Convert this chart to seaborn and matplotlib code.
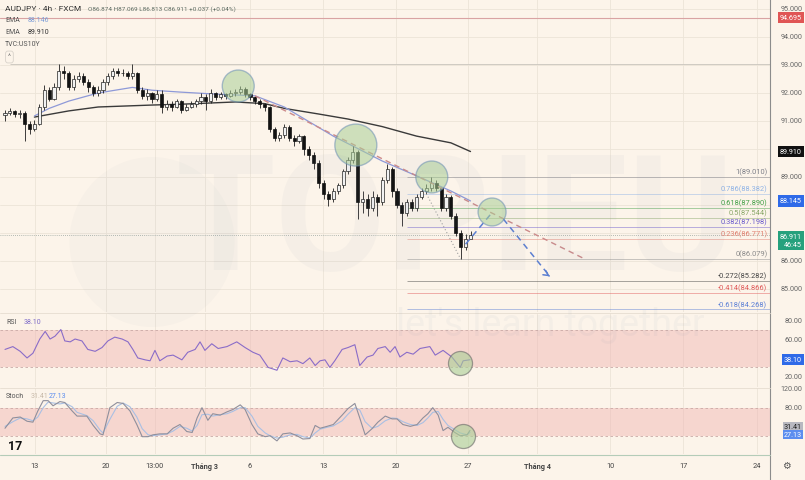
import matplotlib
matplotlib.use("Agg")
import matplotlib.pyplot as plt
from matplotlib.lines import Line2D
from matplotlib.patches import Ellipse
import seaborn as sns
import numpy as np
import pandas as pd

# ---------------- data ----------------
open0 = 91.2
close = [91.3, 91.35, 91.25, 91.3, 90.9, 90.7, 90.9, 91.5, 92.1, 91.8,
         92.2, 92.8, 92.7, 92.2, 92.5, 92.6, 92.4, 92.2, 92.0, 92.1,
         92.4, 92.6, 92.8, 92.7, 92.7, 92.6, 92.7, 92.1, 91.9, 92.0,
         91.8, 91.95, 91.5, 91.6, 91.5, 91.7, 91.4, 91.5, 91.6, 91.7,
         91.85, 91.7, 92.0, 91.85, 91.95, 91.9, 92.0, 92.05, 92.15, 91.95,
         91.85, 91.7, 91.6, 91.5, 90.7, 90.4, 90.5, 90.8, 90.4, 90.3,
         90.45, 90.0, 89.8, 89.5, 88.8, 88.4, 88.2, 88.5, 88.7, 89.2,
         89.6, 89.9, 88.1, 88.2, 87.9, 88.3, 88.1, 88.9, 89.3, 88.5,
         88.0, 87.7, 88.1, 87.9, 88.3, 88.5, 88.6, 88.8, 88.6, 87.9,
         88.3, 87.6, 87.0, 86.5, 86.8, 86.911]
high = [91.4, 91.45, 91.4, 91.4, 91.35, 91.0, 91.05, 91.6, 92.3, 92.2,
        92.35, 93.05, 92.95, 92.8, 92.65, 92.75, 92.7, 92.5, 92.3, 92.25,
        92.5, 92.7, 92.9, 92.9, 92.85, 92.8, 93.05, 92.75, 92.2, 92.15,
        92.05, 92.1, 92.1, 91.75, 91.7, 91.8, 91.75, 91.6, 91.7, 91.8,
        92.0, 91.95, 92.15, 92.05, 92.05, 92.0, 92.1, 92.15, 92.25, 92.2,
        92.0, 91.9, 91.8, 91.65, 91.55, 90.8, 90.6, 90.9, 90.85, 90.5,
        90.55, 90.5, 90.1, 89.9, 89.6, 88.9, 88.5, 88.6, 88.8, 89.3,
        89.7, 90.1, 89.95, 88.5, 88.4, 88.5, 88.4, 89.0, 89.45, 89.35,
        88.6, 88.1, 88.2, 88.2, 88.4, 88.6, 88.75, 89.0, 88.9, 88.65,
        88.4, 88.35, 87.7, 87.1, 86.95, 87.069]
low = [91.0, 91.2, 91.15, 91.1, 90.3, 90.55, 90.65, 90.85, 91.4, 91.7,
       91.75, 92.1, 92.5, 92.1, 92.1, 92.4, 92.3, 92.05, 91.9, 91.9,
       92.0, 92.3, 92.5, 92.6, 92.6, 92.5, 92.5, 92.0, 91.8, 91.75,
       91.65, 91.7, 91.3, 91.4, 91.35, 91.45, 91.3, 91.35, 91.45, 91.5,
       91.6, 91.4, 91.65, 91.75, 91.8, 91.8, 91.85, 91.9, 91.95, 91.85,
       91.75, 91.6, 91.45, 91.35, 90.6, 90.3, 90.3, 90.4, 90.3, 90.1,
       90.2, 89.8, 89.6, 89.3, 88.6, 88.2, 87.96, 88.1, 88.4, 88.6,
       89.1, 89.5, 87.5, 87.7, 87.6, 87.8, 87.6, 88.0, 88.8, 88.3,
       87.9, 87.25, 87.6, 87.8, 87.8, 88.2, 88.4, 88.5, 88.5, 87.8,
       87.8, 87.5, 86.9, 86.07, 86.4, 86.813]

ema_fast_bar = [6, 9, 13, 19, 26, 30, 36, 43, 51, 57, 67, 77, 84, 91, 95]
ema_fast = [91.18, 91.45, 91.71, 92.0, 92.2, 92.1, 92.03, 91.96, 91.9, 91.5,
            90.46, 89.57, 89.04, 88.5, 88.146]
ema_slow_bar = [6, 13, 19, 30, 36, 47, 53, 57, 64, 70, 77, 84, 91, 95]
ema_slow = [91.14, 91.36, 91.5, 91.57, 91.6, 91.68, 91.62, 91.45, 91.25,
            91.07, 90.8, 90.46, 90.22, 89.91]

trend_bar = [51, 118]
trend_price = [91.9, 86.1]
proj_bar = [94, 99.5, 111.2]
proj_price = [86.6, 87.75, 85.45]
dotted_bar = [86, 93]
dotted_price = [88.4, 86.07]

fib_ratio = [1, 0.786, 0.618, 0.5, 0.382, 0.236, 0, -0.272, -0.414, -0.618]
fib_price = [89.010, 88.382, 87.890, 87.544, 87.198, 86.771, 86.079, 85.282, 84.866, 84.268]
fib_colors = ['#7d7f88', '#8fb3e6', '#43a047', '#8aa86a', '#6a5acd', '#e08070',
              '#8a8a8a', '#444444', '#e05a5a', '#5b7fd6']

circle_bar = [47.6, 71.6, 87.1, 99.4]
circle_price = [92.25, 90.14, 89.0, 87.75]

rsi_bar = [0, 1.6, 3.1, 4.5, 5.7, 7.1, 8.2, 9.2, 10.2, 11.4, 12.2, 13.3, 14.3, 15.7,
           16.9, 18.4, 19.8, 21, 22.4, 23.9, 25.1, 26.1, 27.1, 28.6, 29.6, 30.6, 31.6,
           33.1, 34.3, 36.1, 37.3, 38.8, 39.8, 40.8, 42.2, 43.5, 45.3, 47.3, 49, 50.6,
           52, 53.7, 55.5, 56.7, 58.2, 59.6, 60.8, 62.2, 63.3, 64.3, 65.3, 66.3, 67.3,
           68.8, 70, 71.4, 72.4, 73.9, 75.1, 76.1, 77.6, 78.6, 79.6, 80.6, 82, 83.3,
           84.7, 86.7, 87.8, 89.4, 91.2, 92.9, 93.5, 94.9]
rsi_val = [49, 52, 47, 40, 45, 60, 68, 60, 63, 70, 58, 57, 60, 58, 49, 47, 51, 58,
           62, 60, 57, 49, 40, 38, 37, 48, 37, 42, 43, 38, 46, 49, 57, 48, 55, 50,
           52, 57, 51, 46, 43, 30, 27, 40, 36, 37, 34, 40, 32, 37, 38, 30, 37, 49,
           51, 54, 32, 41, 43, 50, 52, 46, 52, 41, 46, 44, 50, 52, 43, 48, 41, 30,
           37, 38.1]

stoch_bar = [0, 1.6, 3.1, 4.5, 5.7, 6.7, 7.8, 8.8, 9.8, 11.2, 12.2, 13.7, 14.7, 16.7,
             18, 19.4, 20, 21.4, 22.9, 24.1, 25.5, 26.9, 28, 29.2, 30.2, 31.6, 33.1,
             34.3, 35.7, 37.1, 38.2, 39.2, 40.2, 41.4, 42.4, 43.9, 45.3, 46.5, 48, 49,
             50.4, 51.6, 53.1, 54.1, 55.5, 56.7, 58.2, 59.6, 60.8, 62.2, 63.3, 64.3,
             65.7, 67, 68.8, 70, 71.4, 72.4, 73.5, 74.9, 76.1, 77.6, 79, 80, 81.2,
             82.7, 84.1, 85.3, 86.3, 87.3, 88.4, 89.4, 90.4, 91.8, 92.9, 94.3, 94.9]
stoch_k = [36, 58, 60, 51, 49, 73, 95, 95, 84, 93, 91, 73, 62, 62, 42, 24, 22, 80,
           91, 89, 73, 44, 18, 18, 22, 24, 24, 36, 44, 29, 27, 58, 80, 53, 67, 64,
           71, 76, 86, 76, 44, 24, 18, 20, 9, 24, 26, 20, 13, 14, 42, 36, 40, 44,
           64, 78, 89, 58, 22, 35, 49, 62, 56, 56, 44, 40, 44, 58, 67, 80, 64, 31,
           38, 27, 20, 22, 31.41]
stoch_d = [40, 50, 58, 56, 52, 60, 80, 92, 90, 88, 90, 82, 70, 63, 52, 32, 26, 55,
           83, 90, 82, 60, 35, 22, 20, 22, 24, 30, 40, 36, 30, 42, 65, 66, 62, 65,
           67, 72, 80, 80, 62, 40, 26, 20, 15, 17, 22, 23, 18, 15, 26, 34, 38, 41,
           52, 66, 80, 75, 50, 36, 40, 52, 58, 57, 50, 44, 42, 48, 58, 70, 72, 55,
           42, 33, 26, 22, 27.13]

tick_bar = [6.1, 20.6, 30.6, 40.8, 50, 64.9, 79.8, 94.5, 108.6, 123.5, 138.4, 153.5]
tick_label = ["13", "20", "13:00", "Tháng 3", "6", "13", "20", "27", "Tháng 4", "10", "17", "24"]

price_ticks = [95, 94, 93, 92, 91, 89, 86, 85]
rsi_ticks = [80, 60, 20]
stoch_ticks = [120, 80]

# ---------------- style ----------------
sns.set_theme(style="white")
plt.rcParams['font.family'] = ['Roboto', 'DejaVu Sans']
BG = '#fcf4ea'
GRID = '#ece4d8'
W, H = 805, 481

fig = plt.figure(figsize=(8.05, 4.81), dpi=100, facecolor=BG)

def frame(x0, y0, x1, y1):
    return [x0 / W, 1 - y1 / H, (x1 - x0) / W, (y1 - y0) / H]

ax = fig.add_axes(frame(0, 0, 770, 313))
ax_r = fig.add_axes(frame(0, 314, 770, 388), sharex=ax)
ax_s = fig.add_axes(frame(0, 389, 770, 455), sharex=ax)

XMIN, XMAX = -5 / 4.9, 765 / 4.9
for a in (ax, ax_r, ax_s):
    a.set_facecolor('none')
    for sp in a.spines.values():
        sp.set_visible(False)
    a.set_yticks([])
    a.tick_params(axis='x', length=0)
    for tb in tick_bar:
        a.axvline(tb, color=GRID, lw=0.6, zorder=0)
ax.set_xlim(XMIN, XMAX)
ax.set_ylim(94 - 275 / 28, 94 + 38 / 28)
ax_r.set_ylim(9.3, 87.5)
ax_s.set_ylim(-19, 122)
plt.setp(ax.get_xticklabels(), visible=False)
plt.setp(ax_r.get_xticklabels(), visible=False)

# ---------------- main pane ----------------
for p in range(85, 96):
    ax.axhline(p, color=GRID, lw=0.6, zorder=0)
ax.axhline(94.695, color='#d9a3a3', lw=0.8, zorder=1)
ax.hlines(93.04, 1, XMAX, color='#cfcac2', lw=0.7, zorder=1)
ax.axhline(86.911, color='#9aa6a0', lw=0.6, ls=(0, (1, 1.5)), zorder=1)

n = len(close)
opens = [open0] + close[:-1]
df = pd.DataFrame({'bar': np.arange(n), 'open': opens, 'close': close,
                   'high': high, 'low': low})
df['body'] = (df['close'] - df['open']).abs().clip(lower=0.025)
df['bottom'] = df[['open', 'close']].min(axis=1)
up = df['close'] >= df['open']
ax.vlines(df['bar'], df['low'], df['high'], color='#1e1e1e', lw=0.6, zorder=3)
ax.bar(df['bar'][up], df['body'][up], bottom=df['bottom'][up], width=0.62,
       color='#f2f2f2', edgecolor='#222222', linewidth=0.5, zorder=4)
ax.bar(df['bar'][~up], df['body'][~up], bottom=df['bottom'][~up], width=0.62,
       color='#121212', edgecolor='#121212', linewidth=0.5, zorder=4)

sns.lineplot(x=ema_slow_bar, y=ema_slow, ax=ax, color='#3a3a3a', linewidth=1.0,
             estimator=None, sort=False, zorder=2)
sns.lineplot(x=ema_fast_bar, y=ema_fast, ax=ax, color='#8e99d8', linewidth=0.9,
             estimator=None, sort=False, zorder=2)

ax.plot(trend_bar, trend_price, color='#cc8a8a', lw=1.0, ls=(0, (4, 3)), zorder=5)
ax.plot(dotted_bar, dotted_price, color='#a0a0a0', lw=0.8, ls=(0, (1, 2)), zorder=5)
ax.plot(proj_bar[:2], proj_price[:2], color='#5c7fd1', lw=1.1, ls=(0, (4, 3)), zorder=6)
ax.plot([proj_bar[1] + 2.2, proj_bar[2]], [proj_price[1] - 0.25, proj_price[2]],
        color='#5c7fd1', lw=1.1, ls=(0, (4, 3)), zorder=6)
ax.annotate('', xy=(proj_bar[2], proj_price[2]),
            xytext=(proj_bar[2] - 0.6, proj_price[2] + 0.07),
            arrowprops=dict(arrowstyle='->', color='#5c7fd1', lw=1.1,
                            mutation_scale=9), zorder=6)

fib_start = 82
for r, p, c in zip(fib_ratio, fib_price, fib_colors):
    ax.hlines(p, fib_start, XMAX, color=c, lw=0.6, alpha=0.55, zorder=1)
    ax.text(155.6, p + 0.06, f"{r:g}({p:.3f})", color=c, fontsize=5.4,
            ha='right', va='bottom', zorder=7)

circle_sizes = [530, 914, 530, 406]
ax.scatter(circle_bar, circle_price, s=circle_sizes, facecolor='#a9cf95',
           edgecolor='#6b8fb5', linewidth=1.0, alpha=0.55, zorder=6)

# ---------------- RSI pane ----------------
ax_r.axhspan(30, 70, color='#f0b2b0', alpha=0.45, lw=0, zorder=0)
for lv in (70, 30):
    ax_r.axhline(lv, color='#c9a9a6', lw=0.6, ls=(0, (3, 3)), zorder=1)
sns.lineplot(x=rsi_bar, y=rsi_val, ax=ax_r, color='#8a6cc8', linewidth=0.8,
             estimator=None, sort=False, zorder=3)
ax_r.scatter([92.9], [35], s=300, facecolor='#a9cf95', edgecolor='#666666',
             linewidth=0.9, alpha=0.6, zorder=4)

# ---------------- Stoch pane ----------------
ax_s.axhspan(20, 80, color='#f0b2b0', alpha=0.45, lw=0, zorder=0)
for lv in (80, 20):
    ax_s.axhline(lv, color='#c9a9a6', lw=0.6, ls=(0, (3, 3)), zorder=1)
sns.lineplot(x=stoch_bar, y=stoch_d, ax=ax_s, color='#a9c0e4', linewidth=0.8,
             estimator=None, sort=False, zorder=3)
sns.lineplot(x=stoch_bar, y=stoch_k, ax=ax_s, color='#8f8f9c', linewidth=0.8,
             estimator=None, sort=False, zorder=3)
ax_s.scatter([93.5], [19], s=300, facecolor='#a9cf95', edgecolor='#666666',
             linewidth=0.9, alpha=0.6, zorder=4)

ax_s.set_xticks(tick_bar)
ax_s.set_xticklabels(tick_label)
ax_s.tick_params(axis='x', labelsize=5.3, pad=6, labelcolor='#444444')
for lab in ax_s.get_xticklabels():
    if lab.get_text().startswith('Tháng'):
        lab.set_fontweight('bold')

# ---------------- right axis labels & tags ----------------
def axis_label(a, v, txt, color='#666666'):
    a.text(1.0425, v, txt, transform=a.get_yaxis_transform(), ha='right',
           va='center', fontsize=5.2, color=color, clip_on=False)

def tag(a, v, txt, fc, tc='white', pad=0.3):
    a.text(1.0415, v, txt, transform=a.get_yaxis_transform(), ha='right',
           va='center', fontsize=5.2, color=tc, clip_on=False, zorder=10,
           linespacing=1.25,
           bbox=dict(boxstyle=f'square,pad={pad}', fc=fc, ec='none'))

for v in price_ticks:
    axis_label(ax, v, f"{v:.3f}")
for v in rsi_ticks:
    axis_label(ax_r, v, f"{v:.2f}")
for v in stoch_ticks:
    axis_label(ax_s, v, f"{v:.2f}")

tag(ax, 94.695, "94.695", '#e05555')
tag(ax, 89.910, "89.910", '#111111')
tag(ax, 88.146, "88.145", '#2f6ae8')
tag(ax, 86.73, "86.911\n46:45", '#26a17d')
tag(ax_r, 38.1, "38.10", '#2f6ae8')
tag(ax_s, 39.0, "31.41", '#b8b8c0', '#222222', pad=0.15)
tag(ax_s, 22.0, "27.13", '#5b8def', pad=0.15)

# ---------------- frame lines ----------------
fig.add_artist(Line2D([770 / W, 770 / W], [0, 1], color='#8c8c8c', lw=0.8))
fig.add_artist(Line2D([0, 770 / W], [1 - 455.5 / H] * 2, color='#b4ccb8', lw=0.8))
fig.add_artist(Line2D([0, 770 / W], [1 - 313.5 / H] * 2, color='#e6ddd0', lw=0.6))
fig.add_artist(Line2D([0, 770 / W], [1 - 388.5 / H] * 2, color='#e6ddd0', lw=0.6))

# ---------------- header texts ----------------
def ftext(x, y, s, **kw):
    fig.text(x / W, 1 - y / H, s, va='center', ha='left', **kw)

ftext(5, 9, "AUDJPY · 4h · FXCM", fontsize=6, color='#333333')
ftext(88, 9, "O86.874 H87.069 L86.813 C86.911 +0.037 (+0.04%)", fontsize=4.6,
      color='#5d6b62')
ftext(5, 21, "EMA", fontsize=5, color='#555555')
ftext(28, 21, "88.146", fontsize=5, color='#7f9fd8')
ftext(5, 33, "EMA", fontsize=5, color='#555555')
ftext(28, 33, "89.910", fontsize=5, color='#333333')
ftext(5, 45, "TVC:US10Y", fontsize=5, color='#555555')
ftext(8, 58, "^", fontsize=5, color='#777777',
      bbox=dict(boxstyle='round,pad=0.35', fc='none', ec='#d8d2ca', lw=0.6))
ftext(6, 323, "RSI", fontsize=5, color='#555555')
ftext(24, 323, "38.10", fontsize=5, color='#7e6cc8')
ftext(6, 396, "Stoch", fontsize=5, color='#555555')
ftext(31, 396, "31.41", fontsize=5, color='#c7b9a8')
ftext(49, 396, "27.13", fontsize=5, color='#5b8def')
ftext(8, 446, "17", fontsize=9, color='#111111', fontweight='bold')
ftext(782, 466, "⚙", fontsize=7, color='#555555')

# ---------------- watermark ----------------
fig.add_artist(Ellipse((152 / W, 1 - 243 / H), 165 / W, 170 / H,
                       facecolor='#7d8ea8', edgecolor='none', alpha=0.04, zorder=20))
fig.text(455 / W, 1 - 226 / H, "TOPIEU", fontsize=116, fontweight='bold',
         color='#7d8ea8', alpha=0.05, ha='center', va='center', zorder=20)
fig.text(550 / W, 1 - 326 / H, "let's learn together", fontsize=27,
         color='#7d8ea8', alpha=0.06, ha='center', va='center', zorder=20)

fig.savefig("out.png", dpi=100, facecolor=BG)
